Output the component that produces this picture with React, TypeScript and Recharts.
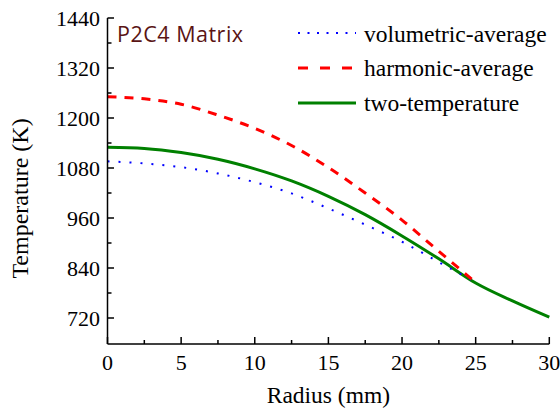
import React from 'react';
import { LineChart, Line, XAxis, YAxis, Legend } from 'recharts';

const radius = [0, 2.5, 5, 7.5, 10, 12.5, 15, 17.5, 20, 22.5, 25, 27.5, 30];
const volumetricAverage = [1096, 1091, 1082, 1067, 1046, 1019, 983, 944, 903, 854, 806, null, null];
const harmonicAverage = [1251, 1246, 1233, 1207, 1175, 1134, 1081, 1020, 955, 880, 805, null, null];
const twoTemperature = [1130, 1127, 1117, 1101, 1078, 1049, 1012, 968, 917, 862, 804, 761, 722];

const xTicks = [0, 2.5, 5, 7.5, 10, 12.5, 15, 17.5, 20, 22.5, 25, 27.5, 30];
const yTicks = [720, 780, 840, 900, 960, 1020, 1080, 1140, 1200, 1260, 1320, 1380, 1440];

const seriesNames = ['volumetric-average', 'harmonic-average', 'two-temperature'];
const panelTitle = 'P2C4 Matrix';

const data = radius.map((r, i) => ({
  r,
  vol: volumetricAverage[i],
  harm: harmonicAverage[i],
  two: twoTemperature[i],
}));

const SERIF = "'Liberation Serif', 'Times New Roman', serif";
const serifStyle = { fontFamily: SERIF };

const legendStyles = [
  { color: '#0000ff', width: 2, dash: '2 7.5' },
  { color: '#ff0000', width: 3, dash: '10 12' },
  { color: '#008000', width: 3, dash: undefined },
];

const YTick = (props: any) => {
  const { x, y, payload } = props;
  const v = payload.value;
  const major = v % 120 === 0;
  return (
    <g>
      <line x1={x} x2={x + (major ? 6.5 : 4)} y1={y} y2={y} stroke="#000" strokeWidth={1.5} />
      {major && (
        <text x={x - 7.5} y={y + 7.5} textAnchor="end" fontSize={22} style={serifStyle} fill="#000" stroke="none">
          {v}
        </text>
      )}
    </g>
  );
};

const XTick = (props: any) => {
  const { x, y, payload } = props;
  const v = payload.value;
  const major = v % 5 === 0;
  return (
    <g>
      <line x1={x} x2={x} y1={y} y2={y - (major ? 7 : 4)} stroke="#000" strokeWidth={1.5} />
      {major && (
        <text x={x} y={y + 26} textAnchor="middle" fontSize={22} style={serifStyle} fill="#000" stroke="none">
          {v}
        </text>
      )}
    </g>
  );
};

const renderLegend = () => (
  <svg width={560} height={414} style={{ position: 'absolute', left: 0, top: 0 }}>
    <text
      x={117}
      y={42}
      fontSize={21.5}
      style={{ fontFamily: "'Open Sans', 'Noto Sans', sans-serif", letterSpacing: 0.5 }}
      fill="#5a1414"
    >
      {panelTitle}
    </text>
    {seriesNames.map((name, i) => (
      <g key={name}>
        <line
          x1={298}
          x2={356}
          y1={33 + i * 35}
          y2={33 + i * 35}
          stroke={legendStyles[i].color}
          strokeWidth={legendStyles[i].width}
          strokeDasharray={legendStyles[i].dash}
        />
        <text x={364} y={41.5 + i * 34.5} style={serifStyle} fontSize={23.5} fill="#000">
          {name}
        </text>
      </g>
    ))}
  </svg>
);

export default function App() {
  return (
    <div style={{ position: 'absolute', left: 0, top: 0, width: 560, height: 414, background: '#fff' }}>
      <LineChart width={560} height={414} data={data} margin={{ top: 18, right: 10.7, bottom: 0, left: 0 }}>
        <XAxis
          dataKey="r"
          type="number"
          domain={[0, 30]}
          ticks={xTicks}
          interval={0}
          height={70}
          tickSize={0}
          tickMargin={0}
          tickLine={false}
          tick={<XTick />}
          axisLine={{ stroke: '#000', strokeWidth: 1.5 }}
          label={{
            content: (p: any) => {
              const vb = p.viewBox;
              return (
                <text
                  x={vb.x + vb.width / 2}
                  y={403}
                  textAnchor="middle"
                  fontSize={23.5}
                  style={serifStyle}
                  fill="#000"
                >
                  Radius (mm)
                </text>
              );
            },
          }}
        />
        <YAxis
          type="number"
          domain={[657.6, 1440]}
          ticks={yTicks}
          interval={0}
          width={107.5}
          tickSize={0}
          tickMargin={0}
          tickLine={false}
          tick={<YTick />}
          axisLine={{ stroke: '#000', strokeWidth: 1.5 }}
          label={{
            content: () => (
              <text
                x={28}
                y={198.5}
                transform="rotate(-90 28 198.5)"
                textAnchor="middle"
                fontSize={24}
                style={serifStyle}
                fill="#000"
              >
                Temperature (K)
              </text>
            ),
          }}
        />
        <Legend
          layout="horizontal"
          verticalAlign="middle"
          align="center"
          wrapperStyle={{ left: 0, top: 0, width: 560, height: 414, pointerEvents: 'none' }}
          content={renderLegend}
        />
        <Line
          name={seriesNames[2]}
          dataKey="two"
          type="monotone"
          stroke="#008000"
          strokeWidth={3}
          dot={false}
          activeDot={false}
          isAnimationActive={false}
        />
        <Line
          name={seriesNames[0]}
          dataKey="vol"
          type="monotone"
          stroke="#0000ff"
          strokeWidth={2}
          strokeDasharray="2 9"
          dot={false}
          activeDot={false}
          isAnimationActive={false}
        />
        <Line
          name={seriesNames[1]}
          dataKey="harm"
          type="monotone"
          stroke="#ff0000"
          strokeWidth={3}
          strokeDasharray="9 8"
          dot={false}
          activeDot={false}
          isAnimationActive={false}
        />
      </LineChart>
    </div>
  );
}
